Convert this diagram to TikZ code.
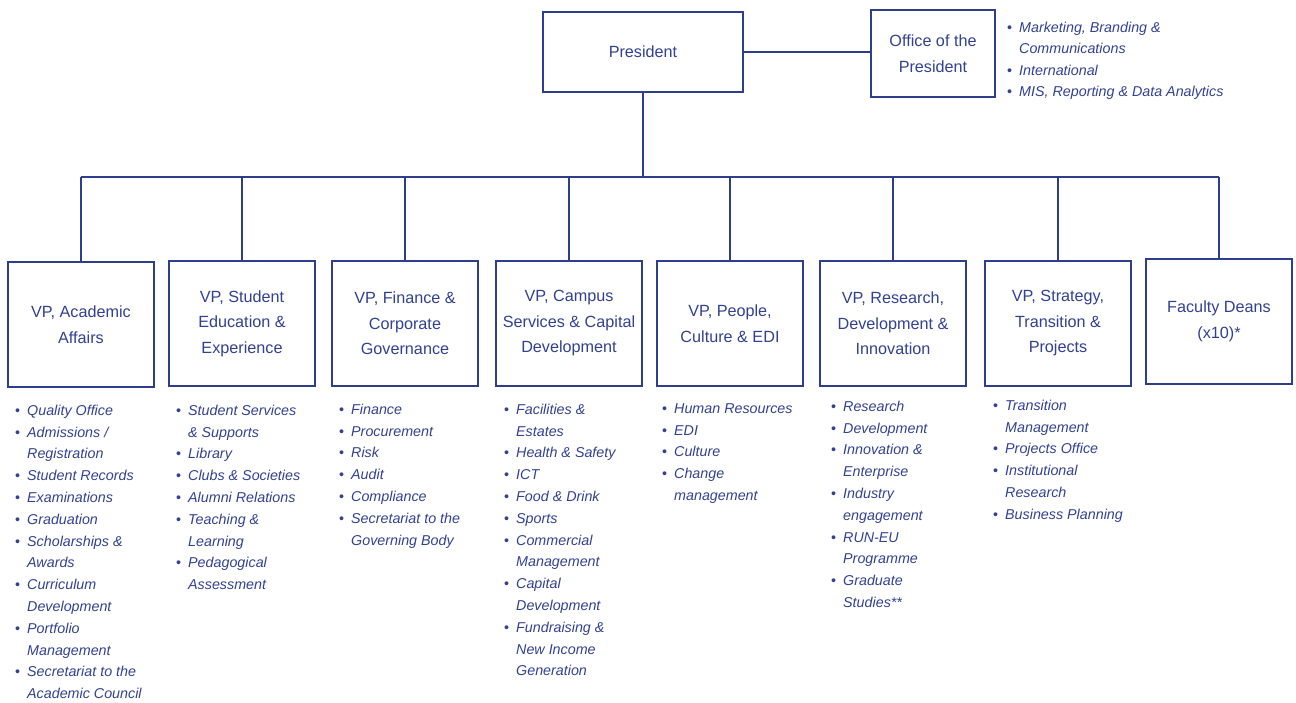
\documentclass[tikz,border=0pt]{standalone}
\usepackage{fontspec}
\setmainfont{Liberation Sans}
\definecolor{ob}{RGB}{47,62,140}
\definecolor{ot}{RGB}{50,65,145}
\newcommand{\bul}{\llap{\upshape\textbullet\hspace{7pt}}}
\newcommand{\tp}{\rule{0pt}{12pt}}
\begin{document}
\begin{tikzpicture}[x=1pt,y=-1pt,
 box/.style={draw=ob, line width=1.7pt, fill=white, inner sep=0pt, minimum width=146pt, minimum height=125pt, align=center, text=ot, font=\fontsize{16.2}{25.5}\selectfont},
 lst/.style={anchor=north west, inner sep=0pt, align=left, text=ot, font=\fontsize{14.3}{21.8}\selectfont\itshape},
 conn/.style={draw=ob, line width=1.8pt}]
\useasboundingbox (0,0) rectangle (1296,702);
\node[box, minimum width=200pt, minimum height=80pt] (pres) at (643,52) {President};
\node[box, minimum width=124pt, minimum height=87pt] (off) at (933,53.5) {Office of the\\President};
\node[box] (vp1) at (81,324.5) {VP, Academic\\Affairs};
\node[box] (vp2) at (242,323.5) {VP, Student\\Education \&\\Experience};
\node[box] (vp3) at (405,323.5) {VP, Finance \&\\Corporate\\Governance};
\node[box] (vp4) at (569,323.5) {VP, Campus\\Services \& Capital\\Development};
\node[box] (vp5) at (730,323.5) {VP, People,\\Culture \& EDI};
\node[box] (vp6) at (893,323.5) {VP, Research,\\Development \&\\Innovation};
\node[box] (vp7) at (1058,323.5) {VP, Strategy,\\Transition \&\\Projects};
\node[box] (vp8) at (1219,321.5) {Faculty Deans\\(x10)*};
\coordinate (bus) at (643,177);
\draw[conn] (pres.east) -- (pres.east -| off.west);
\draw[conn] (pres.south) -- (bus);
\draw[conn] (vp1.north |- bus) -- (vp8.north |- bus);
\foreach \i in {1,...,8} \draw[conn] (vp\i.north |- bus) -- (vp\i.north);
\node[lst, font=\fontsize{14.3}{21.5}\selectfont\itshape] (loff) at (1019,20) {\tp\bul Marketing, Branding \&\\Communications\\\bul International\\\bul MIS, Reporting \& Data Analytics};
\node[lst] (l1) at (27,403) {\tp\bul Quality Office\\\bul Admissions /\\Registration\\\bul Student Records\\\bul Examinations\\\bul Graduation\\\bul Scholarships \&\\Awards\\\bul Curriculum\\Development\\\bul Portfolio\\Management\\\bul Secretariat to the\\Academic Council};
\node[lst] (l2) at (188,403) {\tp\bul Student Services\\\& Supports\\\bul Library\\\bul Clubs \& Societies\\\bul Alumni Relations\\\bul Teaching \&\\Learning\\\bul Pedagogical\\Assessment};
\node[lst] (l3) at (351,402) {\tp\bul Finance\\\bul Procurement\\\bul Risk\\\bul Audit\\\bul Compliance\\\bul Secretariat to the\\Governing Body};
\node[lst] (l4) at (516,402) {\tp\bul Facilities \&\\Estates\\\bul Health \& Safety\\\bul ICT\\\bul Food \& Drink\\\bul Sports\\\bul Commercial\\Management\\\bul Capital\\Development\\\bul Fundraising \&\\New Income\\Generation};
\node[lst] (l5) at (674,401) {\tp\bul Human Resources\\\bul EDI\\\bul Culture\\\bul Change\\management};
\node[lst] (l6) at (843,399) {\tp\bul Research\\\bul Development\\\bul Innovation \&\\Enterprise\\\bul Industry\\engagement\\\bul RUN-EU\\Programme\\\bul Graduate\\Studies**};
\node[lst] (l7) at (1005,398) {\tp\bul Transition\\Management\\\bul Projects Office\\\bul Institutional\\Research\\\bul Business Planning};
\end{tikzpicture}
\end{document}
